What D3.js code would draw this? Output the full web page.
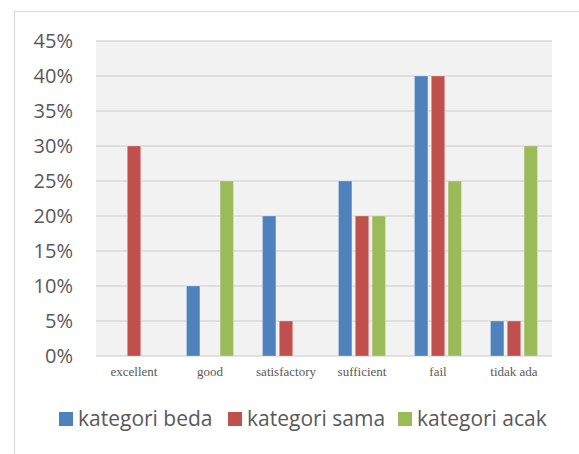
<!DOCTYPE html>
<html>
<head>
<meta charset="utf-8">
<script src="https://cdn.jsdelivr.net/npm/d3@7"></script>
<style>
  body { margin: 0; background: #fff; }
</style>
</head>
<body>
<div id="chart"></div>
<script>
// 데이터
const categories = ["excellent", "good", "satisfactory", "sufficient", "fail", "tidak ada"];
const seriesNames = ["kategori beda", "kategori sama", "kategori acak"];
const kategoriBeda = [0, 10, 20, 25, 40, 5];
const kategoriSama = [30, 0, 5, 20, 40, 5];
const kategoriAcak = [0, 25, 0, 20, 25, 30];
const yTicks = [0, 5, 10, 15, 20, 25, 30, 35, 40, 45];
const colors = ["#4F81BD", "#C0504D", "#9BBB59"];

const seriesValues = [kategoriBeda, kategoriSama, kategoriAcak];
const rows = categories.map((c, i) => ({
  cat: c,
  vals: seriesNames.map((s, j) => ({ key: s, value: seriesValues[j][i], color: colors[j] }))
}));

const W = 579, H = 454;
const margin = { top: 41, right: 27, bottom: 98, left: 96 };
const innerW = W - margin.left - margin.right;
const innerH = H - margin.top - margin.bottom;

const svg = d3.select("#chart").append("svg")
  .attr("width", W)
  .attr("height", H);

// 바깥 테두리
svg.append("rect")
  .attr("x", 14.5).attr("y", 11.5)
  .attr("width", W).attr("height", H)
  .attr("fill", "none")
  .attr("stroke", "#D9D9D9")
  .attr("stroke-width", 1.2);

const g = svg.append("g").attr("transform", `translate(${margin.left},${margin.top})`);

// 플롯 배경
g.append("rect")
  .attr("width", innerW).attr("height", innerH)
  .attr("fill", "#F2F2F2");

const x0 = d3.scaleBand().domain(categories).range([0, innerW]).padding(0);
const x1 = d3.scaleBand().domain(seriesNames).range([0, x0.bandwidth()])
  .paddingInner(0.2).paddingOuter(0.86);
const y = d3.scaleLinear().domain([0, 45]).range([innerH, 0]);

// 그리드
g.selectAll(".grid").data(yTicks).enter().append("line")
  .attr("x1", 0).attr("x2", innerW)
  .attr("y1", d => y(d)).attr("y2", d => y(d))
  .attr("stroke", "#D9D9D9")
  .attr("stroke-width", 1.5);

// Y축
const yAxis = g.append("g")
  .call(d3.axisLeft(y).tickValues(yTicks).tickFormat(d => d + "%").tickSize(0).tickPadding(23));
yAxis.select(".domain").remove();
yAxis.selectAll("text")
  .attr("fill", "#595959")
  .style("font-family", "'Open Sans', 'Noto Sans', sans-serif")
  .style("font-size", "20px");

// 막대
const groups = g.selectAll(".grp").data(rows).enter().append("g")
  .attr("transform", d => `translate(${x0(d.cat)},0)`);
groups.selectAll("rect").data(d => d.vals.filter(v => v.value > 0)).enter().append("rect")
  .attr("x", d => x1(d.key))
  .attr("width", x1.bandwidth())
  .attr("y", d => y(d.value))
  .attr("height", d => innerH - y(d.value))
  .attr("fill", d => d.color)
  .attr("stroke", "#ffffff")
  .attr("stroke-opacity", 0.35)
  .attr("stroke-width", 0.8);

// X축
const xAxis = g.append("g")
  .attr("transform", `translate(0,${innerH})`)
  .call(d3.axisBottom(x0).tickSize(0).tickPadding(11));
xAxis.select(".domain").remove();
xAxis.selectAll("text")
  .attr("fill", "#595959")
  .style("font-family", "'Liberation Serif', 'Times New Roman', serif")
  .style("font-size", "13px");

// 범례
const legendX = [59, 228, 398];
const legend = svg.append("g");
seriesNames.forEach((s, i) => {
  const lg = legend.append("g").attr("transform", `translate(${legendX[i]},412)`);
  lg.append("rect").attr("width", 14).attr("height", 14).attr("fill", colors[i]);
  lg.append("text")
    .attr("x", 19).attr("y", 7)
    .attr("dy", "0.35em")
    .attr("fill", "#595959")
    .style("font-family", "'Open Sans', 'Noto Sans', sans-serif")
    .style("font-size", "21px")
    .text(s);
});
</script>
</body>
</html>
